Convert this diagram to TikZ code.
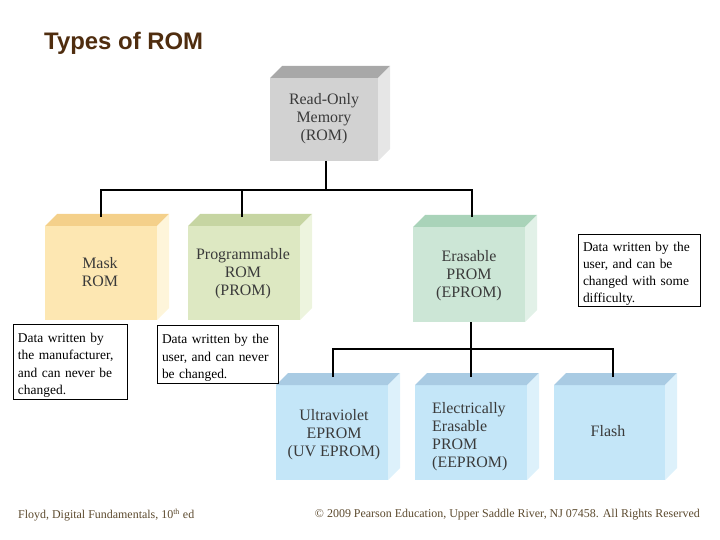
\documentclass[tikz,border=0pt]{standalone}
\usepackage{fontspec}
\setmainfont{Liberation Serif}
\newfontfamily\titlefont{Liberation Sans}
\definecolor{titlebrown}{HTML}{4F2D0F}
\definecolor{footbrown}{HTML}{5C4A2E}
\definecolor{lbltext}{HTML}{3A3A3A}
\definecolor{romtop}{HTML}{A8A8A8}
\definecolor{romfront}{HTML}{D2D2D2}
\definecolor{romside}{HTML}{E6E6E6}
\definecolor{masktop}{HTML}{F4D08A}
\definecolor{maskfront}{HTML}{FDE7B2}
\definecolor{maskside}{HTML}{FEF5DA}
\definecolor{progtop}{HTML}{C6D5A2}
\definecolor{progfront}{HTML}{DDE8C2}
\definecolor{progside}{HTML}{EDF4DE}
\definecolor{erastop}{HTML}{A9D3B9}
\definecolor{erasfront}{HTML}{CCE6D6}
\definecolor{erasside}{HTML}{E2F1E8}
\definecolor{bluetop}{HTML}{A9CBE3}
\definecolor{bluefront}{HTML}{C4E6F8}
\definecolor{blueside}{HTML}{DDF1FB}
\newcommand\rcube[8]{%
  \node[inner sep=0pt, outer sep=0pt, fill=#7, minimum width={(#4-#2)*1bp}, minimum height={(#5-#3)*1bp}] (#1) at ({(#2+#4)/2},{(#3+#5)/2}) {};
  \fill[#6] (#1.north west) -- ++(12,-12) -- ([shift={(12,-12)}]#1.north east) -- (#1.north east) -- cycle;
  \fill[#8] (#1.north east) -- ++(12,-12) -- ([shift={(12,-12)}]#1.south east) -- (#1.south east) -- cycle;
}
\newcommand\dstrut{\rule{0pt}{17bp}}
\tikzset{
  lbl/.style={align=center, text=lbltext, font=\fontsize{16}{18}\selectfont, inner sep=0pt},
  desc/.style={draw=black, line width=0.8bp, fill=white, align=left, inner sep=0pt, font=\fontsize{13.5}{17.2}\selectfont, text=black},
  conn/.style={line width=2bp, black},
  foot/.style={font=\fontsize{12}{14}\selectfont, text=footbrown, inner sep=0pt}
}
\begin{document}
\begin{tikzpicture}[x=1bp,y=-1bp]
\useasboundingbox (0,0) rectangle (720,540);
\node[anchor=west, font=\titlefont\bfseries\fontsize{24}{28}\selectfont, text=titlebrown, inner sep=0pt] (title) at (44,43) {Types of ROM};

\rcube{rom}{270}{78}{378}{161}{romtop}{romfront}{romside}
\rcube{mask}{45}{226}{157}{320}{masktop}{maskfront}{maskside}
\rcube{prog}{188}{226}{300}{320}{progtop}{progfront}{progside}
\rcube{eras}{413}{227}{525}{322}{erastop}{erasfront}{erasside}
\rcube{uv}{276}{385}{388}{480}{bluetop}{bluefront}{blueside}
\rcube{ee}{415}{385}{527}{480}{bluetop}{bluefront}{blueside}
\rcube{flash}{554}{385}{665}{480}{bluetop}{bluefront}{blueside}

\node[lbl] (romL) at (324,119) {Read-Only\\Memory\\(ROM)};
\node[lbl] (maskL) at (100,272) {Mask\\ROM};
\node[lbl] (progL) at (243,274) {Programmable\\ROM\\(PROM)};
\node[lbl] (erasL) at (469,276) {Erasable\\PROM\\(EPROM)};
\node[lbl] (uvL) at (334,435) {Ultraviolet\\EPROM\\(UV EPROM)};
\node[lbl, align=left, anchor=west] (eeL) at (432,437) {Electrically\\Erasable\\PROM\\(EEPROM)};
\node[lbl] (flashL) at (608,431) {Flash};

% connectors
\coordinate (j1) at (326,190);
\coordinate (maskT) at (101,217);
\coordinate (progT) at (242,217);
\coordinate (erasT) at (472,217);
\draw[conn] (rom.south -| j1) -- (j1);
\draw[conn] (maskT) |- (j1);
\draw[conn] (erasT) |- (j1);
\draw[conn] (progT) -- (progT |- j1);

\coordinate (j2) at (471,349);
\coordinate (uvT) at (333,377);
\coordinate (eeT) at (471,377);
\coordinate (flashT) at (613,377);
\draw[conn] (eras.south -| j2) -- (eeT);
\draw[conn] (uvT) |- (j2);
\draw[conn] (flashT) |- (j2);

% description boxes
\node[desc, minimum width=114bp, minimum height=75bp, text width=104bp] (d1) at (70,361.5) {\dstrut Data written by\\the manufacturer,\\and can never be\\changed.};
\node[desc, minimum width=121bp, minimum height=58bp, text width=111bp] (d2) at (217.5,354) {\dstrut Data written by the\\user, and can never\\be changed.};
\node[desc, minimum width=122bp, minimum height=72bp, text width=112bp] (d3) at (639,270) {\dstrut Data written by the\\user, and can be\\changed with some\\difficulty.};

% footer
\node[foot, anchor=west] (f1) at (18,515) {Floyd, Digital Fundamentals, 10\textsuperscript{th} ed};
\node[foot, anchor=east] (f2) at (700,515) {© 2009 Pearson Education, Upper Saddle River, NJ 07458. All Rights Reserved};
\end{tikzpicture}
\end{document}
